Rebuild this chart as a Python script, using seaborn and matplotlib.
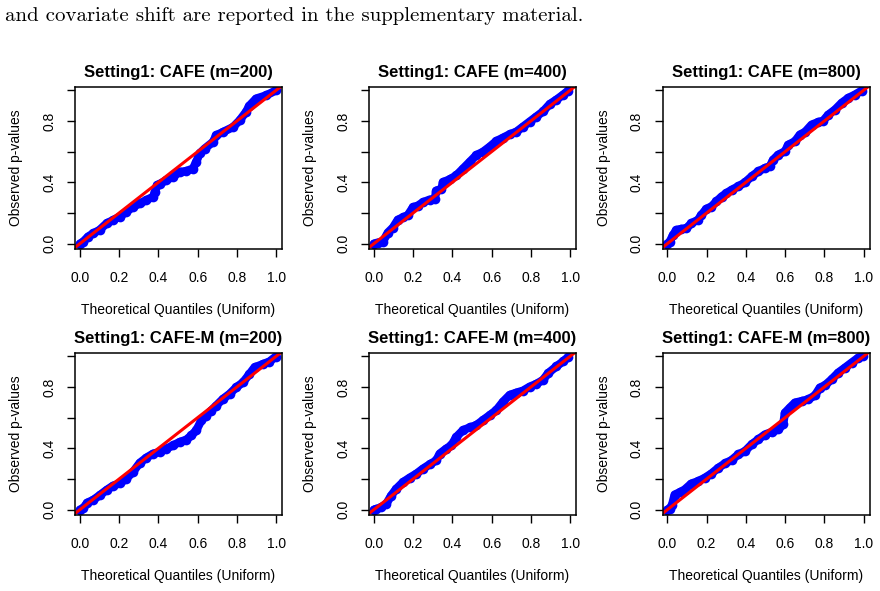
import seaborn as sns
import matplotlib.pyplot as plt
import pandas as pd

# Q-Q points (theoretical uniform quantile, observed p-value)
q_cafe_200 = [0.0, 0.017, 0.042, 0.068, 0.10, 0.136, 0.17, 0.203, 0.237, 0.271, 0.305, 0.339,
              0.373, 0.382, 0.393, 0.407, 0.441, 0.475, 0.508, 0.542, 0.576, 0.593, 0.61, 0.636,
              0.678, 0.695, 0.729, 0.78, 0.814, 0.847, 0.864, 0.898, 0.949, 1.0]
p_cafe_200 = [0.0, 0.013, 0.046, 0.067, 0.089, 0.132, 0.154, 0.176, 0.208, 0.24, 0.262, 0.284,
              0.306, 0.338, 0.38, 0.39, 0.414, 0.436, 0.468, 0.473, 0.49, 0.533, 0.588, 0.62,
              0.663, 0.707, 0.728, 0.76, 0.804, 0.86, 0.90, 0.946, 0.967, 1.0]

q_cafe_400 = [0.0, 0.02, 0.046, 0.071, 0.097, 0.122, 0.148, 0.173, 0.199, 0.224, 0.25, 0.284,
              0.31, 0.318, 0.344, 0.352, 0.386, 0.42, 0.454, 0.488, 0.522, 0.556, 0.59, 0.624,
              0.658, 0.692, 0.726, 0.76, 0.794, 0.828, 0.862, 0.896, 0.93, 0.964, 0.99]
p_cafe_400 = [0.0, 0.007, 0.013, 0.072, 0.105, 0.156, 0.171, 0.186, 0.237, 0.248, 0.27, 0.287,
              0.292, 0.346, 0.357, 0.401, 0.419, 0.445, 0.489, 0.533, 0.577, 0.599, 0.632, 0.669,
              0.691, 0.713, 0.73, 0.763, 0.796, 0.829, 0.862, 0.91, 0.939, 0.971, 0.998]

q_cafe_800 = [0.0, 0.012, 0.029, 0.046, 0.071, 0.097, 0.122, 0.156, 0.173, 0.199, 0.224, 0.25,
              0.276, 0.301, 0.327, 0.361, 0.395, 0.429, 0.463, 0.497, 0.522, 0.539, 0.565, 0.599,
              0.616, 0.65, 0.675, 0.701, 0.735, 0.769, 0.794, 0.82, 0.854, 0.888, 0.922, 0.956, 0.99]
p_cafe_800 = [0.0, 0.013, 0.057, 0.089, 0.096, 0.1, 0.133, 0.155, 0.187, 0.227, 0.242, 0.275,
              0.307, 0.329, 0.351, 0.373, 0.399, 0.438, 0.471, 0.493, 0.504, 0.547, 0.58, 0.602,
              0.645, 0.667, 0.711, 0.728, 0.776, 0.793, 0.802, 0.841, 0.874, 0.918, 0.95, 0.972, 0.998]

q_cafem_200 = [0.0, 0.017, 0.037, 0.068, 0.102, 0.136, 0.169, 0.203, 0.237, 0.271, 0.305, 0.339,
               0.373, 0.407, 0.441, 0.475, 0.508, 0.542, 0.568, 0.593, 0.619, 0.644, 0.669, 0.695,
               0.729, 0.763, 0.797, 0.831, 0.864, 0.89, 0.932, 0.966, 0.997]
p_cafem_200 = [0.0, 0.009, 0.045, 0.063, 0.095, 0.128, 0.156, 0.171, 0.203, 0.246, 0.305, 0.339,
               0.365, 0.376, 0.398, 0.419, 0.441, 0.456, 0.484, 0.517, 0.582, 0.614, 0.646, 0.679,
               0.722, 0.755, 0.798, 0.83, 0.884, 0.928, 0.949, 0.966, 0.997]

q_cafem_400 = [0.0, 0.012, 0.037, 0.063, 0.088, 0.114, 0.148, 0.182, 0.216, 0.25, 0.284, 0.318,
               0.335, 0.369, 0.395, 0.42, 0.454, 0.488, 0.522, 0.556, 0.59, 0.624, 0.658, 0.692,
               0.726, 0.76, 0.794, 0.828, 0.862, 0.888, 0.93, 0.964, 0.99]
p_cafem_400 = [0.0, 0.004, 0.015, 0.037, 0.092, 0.136, 0.179, 0.208, 0.234, 0.267, 0.295, 0.321,
               0.365, 0.398, 0.42, 0.474, 0.518, 0.536, 0.551, 0.584, 0.616, 0.649, 0.704, 0.748,
               0.763, 0.776, 0.802, 0.82, 0.846, 0.89, 0.934, 0.967, 0.995]

q_cafem_800 = [0.0, 0.012, 0.024, 0.037, 0.063, 0.088, 0.122, 0.156, 0.19, 0.224, 0.259, 0.293,
               0.327, 0.361, 0.395, 0.429, 0.463, 0.497, 0.531, 0.565, 0.59, 0.599, 0.624, 0.65,
               0.684, 0.718, 0.752, 0.777, 0.803, 0.837, 0.871, 0.905, 0.939, 0.973, 0.998]
p_cafem_800 = [0.0, 0.007, 0.033, 0.098, 0.113, 0.131, 0.17, 0.185, 0.207, 0.235, 0.272, 0.301,
               0.323, 0.36, 0.381, 0.425, 0.458, 0.49, 0.506, 0.523, 0.556, 0.632, 0.665, 0.698,
               0.708, 0.719, 0.745, 0.796, 0.811, 0.85, 0.894, 0.926, 0.959, 0.991, 1.0]

titles = ["Setting1: CAFE (m=200)", "Setting1: CAFE (m=400)", "Setting1: CAFE (m=800)",
          "Setting1: CAFE-M (m=200)", "Setting1: CAFE-M (m=400)", "Setting1: CAFE-M (m=800)"]
x_ticks = [0.0, 0.2, 0.4, 0.6, 0.8, 1.0]
y_ticks = [0.0, 0.2, 0.4, 0.6, 0.8, 1.0]
y_ticklabels = ["0.0", "", "0.4", "", "0.8", ""]
caption = "and covariate shift are reported in the supplementary material."

panels = [(q_cafe_200, p_cafe_200), (q_cafe_400, p_cafe_400), (q_cafe_800, p_cafe_800),
          (q_cafem_200, p_cafem_200), (q_cafem_400, p_cafem_400), (q_cafem_800, p_cafem_800)]

sns.set_style("ticks")
plt.rcParams['font.family'] = ['Liberation Sans', 'DejaVu Sans']
plt.rcParams['axes.edgecolor'] = 'black'
plt.rcParams['axes.linewidth'] = 1.1
plt.rcParams['text.color'] = 'black'
plt.rcParams['axes.labelcolor'] = 'black'

W, H = 880, 591
fig = plt.figure(figsize=(W / 100, H / 100), dpi=100)
fig.text(5 / W, 1 - 21 / H, caption, family='cmr10', fontsize=15, va='baseline', ha='left')

lefts = [75, 369, 662.5]
tops = [86.5, 352.5]
bw, bh = 207, 162.5

for i, (q, p) in enumerate(panels):
    r, c = divmod(i, 3)
    ax = fig.add_axes([lefts[c] / W, 1 - (tops[r] + bh) / H, bw / W, bh / H])
    df = pd.DataFrame({'theoretical': q, 'observed': p})
    sns.lineplot(data=df, x='theoretical', y='observed', ax=ax, color='#0000FF',
                 lw=6, marker='o', markersize=7, markeredgewidth=0, estimator=None)
    ax.axline((0, 0), slope=1, color='#FF0000', lw=2.2)
    ax.set_xlim(-0.025, 1.03)
    ax.set_ylim(-0.035, 1.025)
    ax.set_xticks(x_ticks)
    ax.set_xticklabels([f"{t:.1f}" for t in x_ticks])
    ax.set_yticks(y_ticks)
    ax.set_yticklabels(y_ticklabels)
    ax.tick_params(axis='both', direction='out', length=5.5, width=1.0, color='black',
                   labelsize=10, labelcolor='black')
    ax.tick_params(axis='x', pad=10.5)
    ax.tick_params(axis='y', pad=8, labelrotation=90)
    for lab in ax.get_yticklabels():
        lab.set_va('center')
    for s in ax.spines.values():
        s.set_visible(True)
    ax.set_title(titles[i], fontsize=12, fontweight='bold', pad=7)
    ax.set_xlabel("Theoretical Quantiles (Uniform)", fontsize=10)
    ax.set_ylabel("Observed p-values", fontsize=10)
    ax.xaxis.set_label_coords(0.5, -61 / bh)
    ax.yaxis.set_label_coords(-59 / bw, 0.5)
    ax.xaxis.label.set_va('center')
    ax.yaxis.label.set_va('center')

fig.savefig('out.png', dpi=100)
